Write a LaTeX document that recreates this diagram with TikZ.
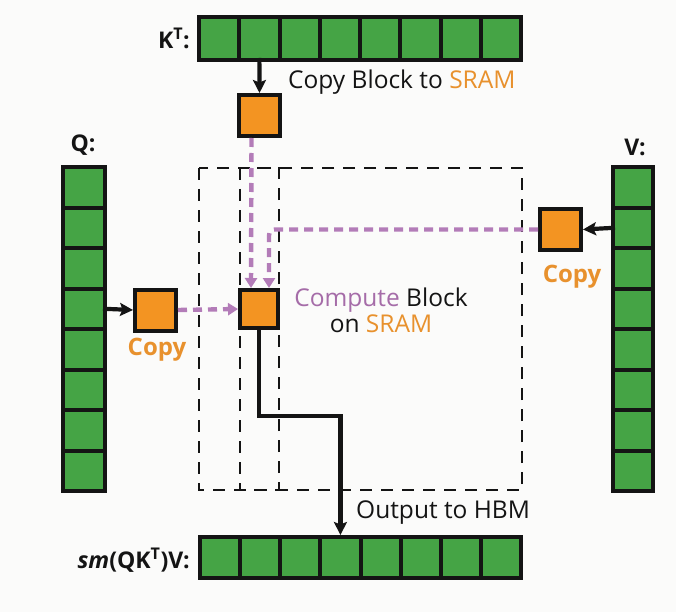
\documentclass[tikz,border=0pt]{standalone}
\usepackage{fontspec}
\setmainfont{Open Sans}
\usetikzlibrary{arrows.meta,calc}
\definecolor{cellgreen}{HTML}{45A445}
\definecolor{boxorange}{HTML}{F39422}
\definecolor{dpurple}{HTML}{B37CB8}
\definecolor{purpletxt}{HTML}{A56CA8}
\definecolor{orangetxt}{HTML}{E8912D}
\definecolor{bgc}{HTML}{FBFBFA}
\definecolor{ink}{HTML}{141414}
\begin{document}
\begin{tikzpicture}[x=1pt,y=-1pt,
  barbg/.style={fill=ink, inner sep=0pt, outer sep=0pt},
  cell/.style={fill=cellgreen, inner sep=0pt, outer sep=0pt},
  obox/.style={fill=boxorange, draw=ink, line width=4pt, inner sep=0pt, minimum size=41pt},
  region/.style={draw=ink, line width=2.6pt, dash pattern=on 12pt off 9pt},
  blk/.style={draw=ink, line width=4.2pt, -{Stealth[length=13pt,width=13pt,inset=2.5pt]}},
  pur/.style={draw=dpurple, line width=4.4pt, dash pattern=on 9pt off 6pt, -{Triangle[length=10pt,width=12pt]}},
  txt/.style={font=\fontsize{24.5}{26}\selectfont, text=ink, inner sep=0pt},
  lbl/.style={font=\fontsize{23}{26}\selectfont\bfseries, text=ink, inner sep=0pt},
  copytxt/.style={font=\fontsize{24}{28}\selectfont\bfseries, text=orangetxt, inner sep=0pt}
]
\useasboundingbox (0,0) rectangle (676,612);
\fill[bgc] (0,0) rectangle (676,612);

% dashed regions
\draw[region] (199,168) rectangle (522,490);
\draw[region] (240,168) rectangle (279,490);

% K^T bar
\node[barbg, minimum width=326pt, minimum height=47pt] (kbar) at (360,38.5) {};
\foreach \i in {1,...,8}
  \node[cell, minimum width=36.25pt, minimum height=39pt] (k\i) at ({219.125+(\i-1)*40.25},38.5) {};

% Q column
\node[barbg, minimum width=46pt, minimum height=328pt] (qbar) at (84,329) {};
\foreach \i in {1,...,8}
  \node[cell, minimum width=38pt, minimum height=36.5pt] (q\i) at (84,{187.25+(\i-1)*40.5}) {};

% V column
\node[barbg, minimum width=44pt, minimum height=328pt] (vbar) at (633,329) {};
\foreach \i in {1,...,8}
  \node[cell, minimum width=36pt, minimum height=36.5pt] (v\i) at (633,{187.25+(\i-1)*40.5}) {};

% output bar
\node[barbg, minimum width=325pt, minimum height=45pt] (sbar) at (360.5,557.5) {};
\foreach \i in {1,...,8}
  \node[cell, minimum width=36.125pt, minimum height=37pt] (s\i) at ({220.06+(\i-1)*40.125},557.5) {};

% orange blocks
\node[obox] (kc) at (259.5,115.5) {};
\node[obox] (qc) at (155.5,310) {};
\node[obox] (vc) at (560.5,229.5) {};
\node[obox, minimum size=38pt] (comp) at (259,309) {};

% purple dashed flows
\draw[pur] ([xshift=-8pt]kc.south) -- ([xshift=-8pt]comp.north);
\draw[pur, rounded corners=6pt] (vc.west) -| ([xshift=10pt]comp.north);
\draw[pur] (qc.east) -- (comp.west);

% black copies
\draw[blk] (k2.south) -- (kc.north);
\draw[blk] (q4.east) -- (qc.west);
\draw[blk] (v2.west) -- (vc.east);
\draw[blk] (comp.south) -- ++(0,86) -| ([yshift=4pt]s4.north);

% labels
\node[lbl, anchor=east] (klbl) at (190,38) {K\textsuperscript{T}:};
\node[txt, anchor=west] (kcopy) at (288,82) {Copy Block to \textcolor{orangetxt}{SRAM}};
\node[lbl] (qlbl) at (83,145) {Q:};
\node[lbl] (vlbl) at (635,147) {V:};
\node[copytxt] (qcopyl) at (157,350) {Copy};
\node[copytxt] (vcopyl) at (572,277) {Copy};
\node[txt, align=center] (comptxt) at (381,310) {\textcolor{purpletxt}{Compute} Block\\on \textcolor{orangetxt}{SRAM}};
\node[txt, anchor=west] (outtxt) at (356,513) {Output to HBM};
\node[lbl, anchor=east] (smlbl) at (190,560) {\textit{sm}(QK\textsuperscript{T})V:};
\end{tikzpicture}
\end{document}
